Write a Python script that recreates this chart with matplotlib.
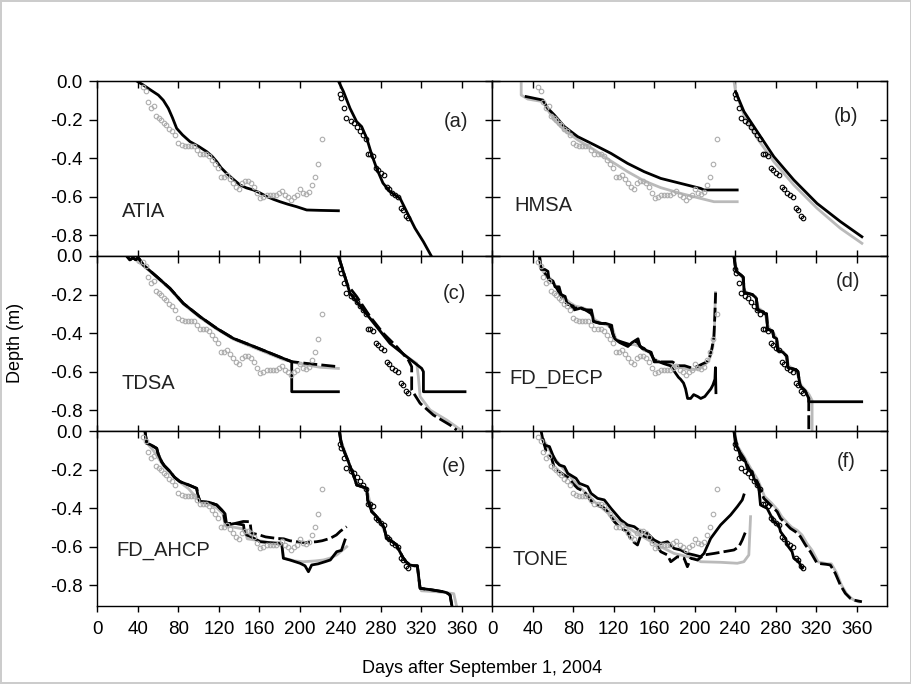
import matplotlib.pyplot as plt

plt.rcParams['font.family'] = ['Liberation Sans', 'DejaVu Sans']
plt.rcParams['axes.unicode_minus'] = False

# ---- observed frost (grey circles) and thaw (black circles) depths, shared by all panels
obs_fr_day = [45, 48, 50, 53, 56, 58, 61, 63, 66, 68, 71, 74, 77, 80, 83, 86, 89, 92, 95, 98,
              101, 104, 107, 110, 113, 116, 119, 122, 125, 128, 131, 134, 137, 140, 143, 146,
              149, 152, 155, 158, 161, 164, 167, 170, 173, 176, 179, 182, 185, 188, 191, 194,
              197, 200, 203, 206, 209, 212, 215, 218, 222]
obs_fr_dep = [-0.03, -0.05, -0.11, -0.14, -0.13, -0.18, -0.19, -0.20, -0.22, -0.23, -0.25, -0.26,
              -0.28, -0.32, -0.33, -0.34, -0.34, -0.34, -0.34, -0.36, -0.38, -0.38, -0.38, -0.39,
              -0.41, -0.43, -0.45, -0.50, -0.50, -0.49, -0.51, -0.53, -0.55, -0.56, -0.53, -0.52,
              -0.52, -0.53, -0.55, -0.58, -0.61, -0.60, -0.59, -0.59, -0.59, -0.59, -0.58, -0.57,
              -0.59, -0.60, -0.62, -0.60, -0.59, -0.56, -0.58, -0.585, -0.575, -0.54, -0.50, -0.43,
              -0.30]
obs_th_day = [240, 241, 244, 246, 250, 253, 256, 259, 262, 265, 267, 269, 272, 275, 277, 280, 283,
              286, 288, 291, 294, 297, 300, 302, 305, 307]
obs_th_dep = [-0.07, -0.09, -0.14, -0.19, -0.21, -0.22, -0.24, -0.26, -0.28, -0.30, -0.38, -0.38,
              -0.39, -0.45, -0.46, -0.48, -0.49, -0.55, -0.56, -0.58, -0.59, -0.60, -0.66, -0.67,
              -0.70, -0.71]

# ---- (a) ATIA
a_fr_day = [38.7, 45, 52, 60.1, 65, 70, 74, 78.2, 84, 91.4, 100, 107.9, 113, 117.8, 122, 127.6,
            134, 140.8, 147, 154, 160, 167.2, 174, 180.3, 188, 196.8, 206.7, 220, 238]
a_fr_dep = [0, -0.02, -0.045, -0.073, -0.10, -0.142, -0.19, -0.246, -0.28, -0.315, -0.34, -0.367,
            -0.39, -0.419, -0.45, -0.48, -0.51, -0.54, -0.555, -0.566, -0.58, -0.60, -0.615, -0.627,
            -0.64, -0.653, -0.67, -0.672, -0.674]
a_th_day = [238, 243, 249.5, 256, 261, 266, 271, 275.8, 282, 289, 299, 305.5, 313.7, 322, 330.2]
a_th_dep = [0, -0.055, -0.142, -0.211, -0.237, -0.298, -0.384, -0.454, -0.53, -0.575, -0.61,
            -0.679, -0.765, -0.835, -0.913]

# ---- (b) HMSA
b_grey_fr_day = [28.6, 28.6, 35.2, 50, 54.9, 61.4, 71.3, 84.4, 100.9, 117.3, 133.7, 150.1, 166.5,
                 186.2, 205.9, 219.1, 242]
b_grey_fr_dep = [0, -0.073, -0.094, -0.107, -0.151, -0.203, -0.255, -0.306, -0.358, -0.416,
                 -0.471, -0.519, -0.554, -0.584, -0.61, -0.627, -0.627]
b_blk_fr_day = [33.5, 50, 54.9, 61.4, 71.3, 84.4, 100.9, 117.3, 133.7, 150.1, 166.5, 186.2, 205.9,
                209.2, 242]
b_blk_fr_dep = [-0.081, -0.099, -0.142, -0.177, -0.237, -0.289, -0.332, -0.376, -0.428, -0.471,
                -0.506, -0.532, -0.558, -0.566, -0.566]
b_grey_th_day = [238.8, 240.4, 248.7, 261.8, 278.2, 297.9, 320.9, 343.9, 365.2]
b_grey_th_dep = [0, -0.055, -0.177, -0.298, -0.419, -0.54, -0.661, -0.765, -0.843]
b_blk_th_day = [240.4, 248.7, 261.8, 278.2, 297.9, 320.9, 343.9, 365.2]
b_blk_th_dep = [-0.055, -0.159, -0.263, -0.393, -0.514, -0.636, -0.73, -0.809]

# ---- (c) TDSA
c_solid_fr_day = [28.8, 32, 35, 38, 40, 45.3, 58.5, 71.6, 84.8, 101.3, 117.8, 134.2, 150.7, 167.2,
                  183.6, 191.9, 191.9, 238]
c_solid_fr_dep = [0, -0.02, -0.01, -0.02, -0.005, -0.047, -0.107, -0.168, -0.246, -0.315, -0.376,
                  -0.428, -0.462, -0.497, -0.532, -0.549, -0.705, -0.705]
c_dash_fr_day = [28.8, 32, 35, 38, 40, 45.3, 58.5, 71.6, 84.8, 101.3, 117.8, 134.2, 150.7, 167.2,
                 183.6, 191.9, 206.7, 238]
c_dash_fr_dep = [0, -0.02, -0.01, -0.02, -0.005, -0.047, -0.107, -0.168, -0.246, -0.315, -0.376,
                 -0.428, -0.462, -0.497, -0.532, -0.549, -0.558, -0.575]
c_grey_fr_day = [40, 45.3, 58.5, 71.6, 84.8, 101.3, 117.8, 134.2, 150.7, 167.2, 183.6, 200, 220, 238]
c_grey_fr_dep = [-0.03, -0.05, -0.11, -0.172, -0.25, -0.32, -0.38, -0.432, -0.468, -0.503, -0.538,
                 -0.56, -0.578, -0.584]
c_solid_th_day = [238, 241.3, 249.5, 262.7, 275.8, 289, 305.5, 320.3, 322, 322, 363.1]
c_solid_th_dep = [0, -0.055, -0.194, -0.281, -0.367, -0.454, -0.523, -0.584, -0.601, -0.705, -0.705]
c_dash_th_day = [238, 241.3, 247, 256.1, 269.3, 282.4, 295.6, 307.1, 310.4, 310.4, 318.7, 331.8,
                 348.3, 354.9]
c_dash_th_dep = [0, -0.055, -0.15, -0.211, -0.315, -0.402, -0.471, -0.54, -0.575, -0.696, -0.765,
                 -0.826, -0.878, -0.904]
c_grey_th_day = [238, 241.3, 249.5, 262.7, 275.8, 289, 305.5, 315.4, 317, 318.7, 328.6, 345, 361.5]
c_grey_th_dep = [0, -0.055, -0.194, -0.281, -0.367, -0.454, -0.523, -0.558, -0.627, -0.73, -0.8,
                 -0.852, -0.913]

# ---- (d) FD_DECP
d_solid_fr_day = [46.7, 47.5, 48.3, 52, 55, 56, 60, 62, 66, 68, 72, 74, 80, 81, 88, 92, 98, 100,
                  108, 112, 118, 119, 121, 126, 130, 134, 138, 144, 146, 150, 152, 157, 160, 165,
                  170, 176, 180, 184, 186, 189, 191, 193, 196, 199, 203, 206, 210, 213, 216, 218,
                  220, 220.5, 221]
d_solid_fr_dep = [0, -0.04, -0.07, -0.07, -0.08, -0.12, -0.13, -0.16, -0.16, -0.2, -0.21, -0.25,
                  -0.26, -0.28, -0.27, -0.28, -0.28, -0.34, -0.35, -0.35, -0.36, -0.4, -0.43, -0.45,
                  -0.46, -0.47, -0.45, -0.43, -0.47, -0.48, -0.49, -0.50, -0.55, -0.55, -0.56, -0.57,
                  -0.60, -0.63, -0.64, -0.66, -0.69, -0.74, -0.74, -0.72, -0.73, -0.74, -0.73, -0.71,
                  -0.69, -0.67, -0.64, -0.58, -0.71]
d_dash_fr_day = [46.7, 48, 52, 56, 60, 64, 68, 72, 76, 80, 86, 92, 98, 100, 106, 112, 117, 120, 124,
                 130, 136, 142, 148, 152, 156, 160, 166, 172, 178, 184, 190, 196, 200, 204, 208, 212,
                 215, 217, 219, 220, 220.7]
d_dash_fr_dep = [0, -0.06, -0.09, -0.12, -0.14, -0.17, -0.21, -0.24, -0.25, -0.27, -0.27, -0.28,
                 -0.30, -0.34, -0.35, -0.35, -0.37, -0.42, -0.44, -0.45, -0.46, -0.44, -0.48, -0.49,
                 -0.50, -0.54, -0.55, -0.55, -0.55, -0.57, -0.57, -0.58, -0.58, -0.57, -0.56, -0.55,
                 -0.52, -0.48, -0.42, -0.30, -0.19]
d_grey_fr_day = [48, 50, 54, 58, 62, 66, 70, 76, 82, 90, 98, 101, 108, 114, 119, 122, 128, 134, 140,
                 146, 150, 155, 159, 165, 172, 180, 188, 194, 200, 206, 211, 215, 218, 219.5, 220.5]
d_grey_fr_dep = [-0.05, -0.08, -0.10, -0.12, -0.15, -0.18, -0.21, -0.24, -0.26, -0.27, -0.29,
                 -0.33, -0.35, -0.36, -0.38, -0.43, -0.45, -0.46, -0.46, -0.47, -0.49, -0.50, -0.53,
                 -0.55, -0.56, -0.57, -0.58, -0.59, -0.59, -0.58, -0.56, -0.53, -0.47, -0.38, -0.19]
d_solid_th_day = [238.8, 240, 241, 246, 248, 249, 257, 259, 261, 262, 268, 269, 271, 272, 277, 278,
                  281, 282, 287, 289, 291, 292, 300, 302, 304, 305, 309, 310, 312.7, 312.7, 365]
d_solid_th_dep = [0, -0.05, -0.08, -0.10, -0.11, -0.19, -0.20, -0.21, -0.22, -0.28, -0.29, -0.30,
                  -0.30, -0.38, -0.39, -0.42, -0.43, -0.49, -0.50, -0.51, -0.52, -0.58, -0.59, -0.60,
                  -0.67, -0.68, -0.70, -0.71, -0.74, -0.757, -0.757]
d_dash_th_day = [238.8, 240, 241, 246, 248, 249, 257, 259, 261, 262, 268, 269, 271, 272, 277, 278,
                 281, 282, 287, 289, 291, 292, 300, 302, 304, 305, 309, 310, 312.7, 312.7]
d_dash_th_dep = [0, -0.05, -0.08, -0.10, -0.11, -0.19, -0.20, -0.21, -0.22, -0.28, -0.29, -0.30,
                 -0.30, -0.38, -0.39, -0.42, -0.43, -0.49, -0.50, -0.51, -0.52, -0.58, -0.59, -0.60,
                 -0.67, -0.68, -0.70, -0.71, -0.74, -0.913]
d_grey_th_day = [238.8, 241, 243, 247, 249, 255, 260, 263, 268, 270, 273, 278, 281, 283, 288, 290,
                 293, 298, 302, 305, 310, 313, 316, 316]
d_grey_th_dep = [0, -0.06, -0.09, -0.11, -0.18, -0.20, -0.21, -0.27, -0.29, -0.31, -0.37, -0.40,
                 -0.43, -0.48, -0.50, -0.52, -0.57, -0.59, -0.62, -0.67, -0.70, -0.72, -0.75, -0.913]

# ---- (e) FD_AHCP
e_solid_fr_day = [46.9, 48.6, 52, 58.5, 60, 63.4, 66, 71.6, 76, 81.5, 90, 98, 99, 101.3, 110, 117.8,
                  124.3, 126, 127.6, 136, 144.3, 145, 147.4, 152, 160.6, 170, 182, 183.6, 190, 200.1,
                  205, 208.4, 211.6, 218, 224.8, 230, 236.3, 241, 244.5]
e_solid_fr_dep = [0, -0.064, -0.07, -0.09, -0.12, -0.16, -0.18, -0.21, -0.24, -0.263, -0.28,
                  -0.298, -0.33, -0.367, -0.37, -0.384, -0.419, -0.43, -0.488, -0.48, -0.488, -0.52,
                  -0.54, -0.55, -0.575, -0.58, -0.584, -0.661, -0.67, -0.687, -0.70, -0.731, -0.696,
                  -0.69, -0.679, -0.67, -0.627, -0.62, -0.566]
e_dash_fr_day = [46.9, 48.6, 52, 58.5, 60, 63.4, 66, 71.6, 76, 81.5, 90, 98, 99, 101.3, 110, 117.8,
                 124.3, 126, 128, 136, 140, 144, 150.7, 152, 160, 166, 177, 184, 190, 196.8, 205,
                 216.6, 222, 229.7, 236, 240, 246.2]
e_dash_fr_dep = [0, -0.064, -0.07, -0.09, -0.12, -0.16, -0.18, -0.21, -0.24, -0.263, -0.28, -0.298,
                 -0.33, -0.367, -0.37, -0.384, -0.419, -0.47, -0.48, -0.48, -0.475, -0.47, -0.471,
                 -0.53, -0.54, -0.55, -0.558, -0.56, -0.57, -0.575, -0.58, -0.575, -0.57, -0.558,
                 -0.54, -0.52, -0.497]
e_grey_fr_day = [47, 50, 55, 60, 65, 72, 80, 90, 100, 110, 118, 124, 126, 135, 145, 148, 160, 170,
                 182, 184, 195, 203.4, 215, 223.2, 230, 236.3, 246.2]
e_grey_fr_dep = [-0.02, -0.07, -0.10, -0.14, -0.18, -0.22, -0.26, -0.30, -0.36, -0.38, -0.40, -0.43,
                 -0.49, -0.50, -0.51, -0.56, -0.57, -0.58, -0.59, -0.66, -0.675, -0.679, -0.675,
                 -0.67, -0.66, -0.644, -0.601]
e_solid_th_day = [239, 240, 241.3, 244, 247.9, 250, 252.8, 256.1, 262, 265.9, 267, 270.9, 275,
                  279.1, 283, 285.7, 290, 295.6, 298, 302.2, 305, 308.8, 313, 316, 318.7, 330,
                  341.7, 345, 348.3, 350]
e_solid_th_dep = [0, -0.04, -0.073, -0.11, -0.16, -0.19, -0.229, -0.281, -0.29, -0.298, -0.36,
                  -0.419, -0.44, -0.471, -0.50, -0.558, -0.57, -0.592, -0.62, -0.661, -0.68, -0.696,
                  -0.70, -0.70, -0.817, -0.825, -0.835, -0.84, -0.852, -0.904]
e_dash_th_day = [239, 240, 241.3, 244, 247.9, 250, 252.8, 256.1, 262, 265.9, 267, 270.9, 275, 279.1,
                 283, 285.7, 290, 295.6, 298, 302.2, 305, 308.8, 313, 316, 318.7, 330, 341.7, 345,
                 348.3, 350]
e_dash_th_dep = [0, -0.04, -0.073, -0.11, -0.16, -0.19, -0.229, -0.281, -0.29, -0.298, -0.36,
                 -0.419, -0.44, -0.471, -0.50, -0.558, -0.57, -0.592, -0.62, -0.661, -0.68, -0.696,
                 -0.70, -0.70, -0.817, -0.825, -0.835, -0.84, -0.852, -0.904]
e_grey_th_day = [239, 241, 244, 248, 253, 256, 260, 266, 271, 276, 280, 286, 292, 296, 302, 308,
                 312, 316, 318, 320, 335, 345, 352, 354.9]
e_grey_th_dep = [0, -0.06, -0.10, -0.16, -0.23, -0.27, -0.29, -0.30, -0.41, -0.45, -0.48, -0.55,
                 -0.58, -0.60, -0.66, -0.70, -0.70, -0.70, -0.80, -0.83, -0.835, -0.84, -0.845,
                 -0.913]

# ---- (f) TONE
f_solid_fr_day = [48.3, 50, 51.6, 56.5, 59.8, 63.1, 66.4, 71.3, 74.6, 82.8, 86.1, 94.3, 97.6, 104.1,
                  110.7, 117.3, 127.1, 133.7, 140.3, 146.8, 153.4, 159.9, 166.5, 173.1, 179.7,
                  186.2, 192.8, 199.4, 205.9, 209.2, 215.8, 225.6, 235.5, 242.1, 247, 248.6]
f_solid_fr_dep = [0, -0.047, -0.073, -0.081, -0.125, -0.159, -0.177, -0.185, -0.22, -0.246, -0.272,
                  -0.289, -0.324, -0.35, -0.358, -0.402, -0.462, -0.488, -0.497, -0.523, -0.532,
                  -0.566, -0.584, -0.575, -0.61, -0.618, -0.636, -0.644, -0.653, -0.636, -0.558,
                  -0.488, -0.436, -0.393, -0.358, -0.332]
f_dash_fr_day = [50, 53.2, 58.2, 61.4, 71.3, 76.2, 79.5, 84.4, 91, 94.3, 100.9, 109, 114, 120.6,
                 127.1, 133.7, 137, 143.5, 146.8, 156.7, 161.6, 166.5, 173.1, 176.4, 183, 189.5,
                 192.8, 196.1, 202.7, 209.2, 219.1, 228.9, 238.8, 243.7, 247, 250.3]
f_dash_fr_dep = [-0.038, -0.107, -0.133, -0.194, -0.229, -0.246, -0.272, -0.298, -0.315, -0.341,
                 -0.384, -0.393, -0.419, -0.471, -0.506, -0.523, -0.566, -0.592, -0.54, -0.558,
                 -0.584, -0.627, -0.644, -0.679, -0.653, -0.661, -0.705, -0.661, -0.67, -0.644,
                 -0.636, -0.627, -0.618, -0.601, -0.566, -0.523]
f_grey_fr_day = [50, 61.4, 81.2, 100.9, 120.6, 140.3, 159.9, 179.7, 199.4, 205.9, 225.6, 242.1,
                 248.6, 253.5, 255.2]
f_grey_fr_dep = [-0.04, -0.142, -0.263, -0.367, -0.454, -0.523, -0.584, -0.636, -0.661, -0.679,
                 -0.682, -0.687, -0.679, -0.644, -0.445]
f_solid_th_day = [238.8, 240.4, 243.7, 245.4, 250.3, 252, 256.8, 258.5, 263.4, 265, 271.6, 274.9,
                  278.2, 283.1, 284.8, 289.7, 291.3, 296.2, 297.9, 302.8, 306.1]
f_solid_th_dep = [0, -0.073, -0.099, -0.142, -0.159, -0.194, -0.211, -0.246, -0.298, -0.384,
                  -0.402, -0.436, -0.471, -0.488, -0.523, -0.558, -0.592, -0.627, -0.661, -0.679,
                  -0.713]
f_dash_th_day = [238.8, 242.1, 248.6, 255.2, 261.8, 268.3, 274.9, 281.5, 284.8, 291.3, 294.6, 299.5,
                 304.5, 309.4, 314.3, 320.9, 330.7, 334, 338.9, 343.9, 348.8, 353.7, 357, 365.2]
f_dash_th_dep = [0, -0.09, -0.142, -0.211, -0.263, -0.35, -0.384, -0.419, -0.454, -0.488, -0.506,
                 -0.523, -0.549, -0.592, -0.627, -0.687, -0.693, -0.696, -0.739, -0.8, -0.843,
                 -0.869, -0.878, -0.887]
f_grey_th_day = [238.8, 242.5, 249, 256, 262.5, 269, 276, 282, 286, 292, 296, 301, 306, 311, 316,
                 322, 331, 335, 340, 345, 350, 355, 358, 362]
f_grey_th_dep = [0, -0.08, -0.135, -0.20, -0.255, -0.34, -0.375, -0.41, -0.445, -0.48, -0.50,
                 -0.515, -0.54, -0.585, -0.62, -0.68, -0.69, -0.69, -0.735, -0.80, -0.845, -0.87,
                 -0.88, -0.887]

x_ticks = [0, 40, 80, 120, 160, 200, 240, 280, 320, 360]
y_ticks = [0.0, -0.2, -0.4, -0.6, -0.8]
y_tick_labels = ['0.0', '-0.2', '-0.4', '-0.6', '-0.8']

GREY = '#bababa'
CIRC = '#adadad'

panels = [
    ('(a)', 'ATIA', (0.907, 0.767), (0.061, 0.257),
     [(a_fr_day, a_fr_dep, 'solid'), (a_th_day, a_th_dep, 'solid')]),
    ('(b)', 'HMSA', (0.897, 0.796), (0.057, 0.291),
     [(b_grey_fr_day, b_grey_fr_dep, 'grey'), (b_grey_th_day, b_grey_th_dep, 'grey'),
      (b_blk_fr_day, b_blk_fr_dep, 'solid'), (b_blk_th_day, b_blk_th_dep, 'solid')]),
    ('(c)', 'TDSA', (0.903, 0.787), (0.061, 0.272),
     [(c_grey_fr_day, c_grey_fr_dep, 'grey'), (c_grey_th_day, c_grey_th_dep, 'grey'),
      (c_solid_fr_day, c_solid_fr_dep, 'solid'), (c_solid_th_day, c_solid_th_dep, 'solid'),
      (c_dash_fr_day, c_dash_fr_dep, 'dash'), (c_dash_th_day, c_dash_th_dep, 'dash')]),
    ('(d)', 'FD_DECP', (0.90, 0.853), (0.044, 0.301),
     [(d_grey_fr_day, d_grey_fr_dep, 'grey'), (d_grey_th_day, d_grey_th_dep, 'grey'),
      (d_solid_fr_day, d_solid_fr_dep, 'solid'), (d_solid_th_day, d_solid_th_dep, 'solid'),
      (d_dash_fr_day, d_dash_fr_dep, 'dash'), (d_dash_th_day, d_dash_th_dep, 'dash')]),
    ('(e)', 'FD_AHCP', (0.903, 0.796), (0.049, 0.32),
     [(e_grey_fr_day, e_grey_fr_dep, 'grey'), (e_grey_th_day, e_grey_th_dep, 'grey'),
      (e_solid_fr_day, e_solid_fr_dep, 'solid'), (e_solid_th_day, e_solid_th_dep, 'solid'),
      (e_dash_fr_day, e_dash_fr_dep, 'dash'), (e_dash_th_day, e_dash_th_dep, 'dash')]),
    ('(f)', 'TONE', (0.897, 0.825), (0.052, 0.263),
     [(f_grey_fr_day, f_grey_fr_dep, 'grey'), (f_grey_th_day, f_grey_th_dep, 'grey'),
      (f_solid_fr_day, f_solid_fr_dep, 'solid'), (f_solid_th_day, f_solid_th_dep, 'solid'),
      (f_dash_fr_day, f_dash_fr_dep, 'dash'), (f_dash_th_day, f_dash_th_dep, 'dash')]),
]

W, H = 912, 684
fig = plt.figure(figsize=(W / 100, H / 100), dpi=100)
fig.patch.set_edgecolor('#cccccc')
fig.patch.set_linewidth(1.5)

left_px, top_px, pw, ph = 97.5, 81, 394.75, 175

for i, (tag, name, tag_pos, name_pos, lines) in enumerate(panels):
    row, col = divmod(i, 2)
    ax = fig.add_axes([(left_px + col * pw) / W, 1 - (top_px + (row + 1) * ph) / H, pw / W, ph / H])
    for x, y, kind in lines:
        if kind == 'grey':
            ax.plot(x, y, color=GREY, lw=2.0, zorder=2)
        elif kind == 'solid':
            ax.plot(x, y, color='black', lw=2.0, zorder=3)
        else:
            ax.plot(x, y, color='black', lw=2.0, dashes=(5, 1.5), zorder=4)
    ax.plot(obs_fr_day, obs_fr_dep, 'o', ms=3.3, mfc='none', mec=CIRC, mew=0.8, zorder=5)
    ax.plot(obs_th_day, obs_th_dep, 'o', ms=3.3, mfc='none', mec='black', mew=0.8, zorder=5)

    ax.set_xlim(0, 390)
    ax.set_ylim(-0.909, 0)
    ax.set_xticks(x_ticks)
    ax.set_yticks(y_ticks)
    ax.set_yticklabels(y_tick_labels)
    ax.tick_params(axis='y', direction='out' if col == 0 else 'in', length=5.5, width=1,
                   labelleft=(col == 0), labelsize=13.5, pad=5)
    ax.tick_params(axis='x', direction='out' if row == 2 else 'in', length=4, width=1,
                   labelbottom=(row == 2), labelsize=13.5, pad=7)
    for sp in ax.spines.values():
        sp.set_linewidth(1.0)

    sy = ax.secondary_yaxis('right')
    sy.set_yticks(y_ticks)
    sy.tick_params(direction='in', length=5, width=1, labelright=False)
    sx = ax.secondary_xaxis('top')
    sx.set_xticks(x_ticks)
    sx.tick_params(direction='in', length=5, width=1, labeltop=False)

    ax.text(tag_pos[0], tag_pos[1], tag, transform=ax.transAxes, ha='center', va='center',
            fontsize=14.5, color='#222222')
    ax.text(name_pos[0], name_pos[1], name, transform=ax.transAxes, ha='left', va='center',
            fontsize=14.5, color='#222222')

fig.text(16 / W, 1 - 343 / H, 'Depth (m)', rotation=90, ha='center', va='center', fontsize=13)
fig.text(482 / W, 1 - 673 / H, 'Days after September 1, 2004', ha='center', va='baseline',
         fontsize=13)

fig.savefig('out.png', dpi=100)
